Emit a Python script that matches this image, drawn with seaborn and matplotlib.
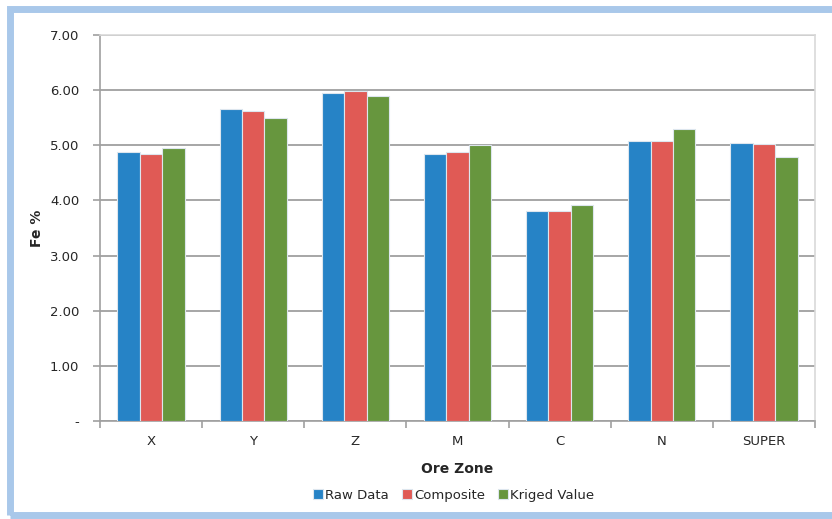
import matplotlib
matplotlib.use("Agg")
import matplotlib.pyplot as plt
import seaborn as sns
import pandas as pd
import numpy as np
from matplotlib.patches import Rectangle
from matplotlib.ticker import FixedLocator

# ==============================
# Data
# ==============================
zones = ["X", "Y", "Z", "M", "C", "N", "SUPER"]
raw_data = [4.87, 5.65, 5.94, 4.84, 3.80, 5.07, 5.04]
composite = [4.84, 5.63, 5.99, 4.88, 3.80, 5.08, 5.02]
kriged = [4.95, 5.50, 5.90, 5.00, 3.92, 5.30, 4.78]
series = ["Raw Data", "Composite", "Kriged Value"]
colors = ["#2683c6", "#e05a55", "#67963e"]
yticks = [0, 1, 2, 3, 4, 5, 6, 7]

df = pd.DataFrame({
    "zone": zones * 3,
    "value": raw_data + composite + kriged,
    "series": [s for s in series for _ in zones],
})

sns.set_style("white")
plt.rcParams["font.family"] = ["DejaVu Sans"]

fig = plt.figure(figsize=(8.32, 5.19), dpi=100)
ax = fig.add_axes([100/832, 1 - 421/519, 715/832, 386/519])

sns.barplot(data=df, x="zone", y="value", hue="series", palette=colors,
            saturation=1, width=0.66, gap=0, edgecolor="#dde6ee", linewidth=0.8,
            errorbar=None, legend=True, ax=ax, zorder=3)

ax.set_ylim(0, 7)
ax.set_xlim(-0.5, len(zones) - 0.5)
ax.set_yticks(yticks)
ax.set_yticklabels(["-" if v == 0 else f"{v:.2f}" for v in yticks], fontsize=9.5)
ax.yaxis.grid(True, color="#a6a6a6", linewidth=1.4, zorder=0)
ax.set_axisbelow(True)

# category ticks sit between groups, like a spreadsheet chart
ax.tick_params(axis="both", which="both", bottom=True, left=True)
ax.tick_params(axis="x", which="major", length=0, labelsize=9.5, pad=10)
ax.xaxis.set_minor_locator(FixedLocator(np.arange(-0.5, len(zones), 1.0)))
ax.tick_params(axis="x", which="minor", length=5, width=1.2, color="#a0a0a0", direction="out")
ax.tick_params(axis="y", which="major", length=5, width=1.2, color="#a0a0a0",
               direction="out", pad=10)

for side in ["left", "bottom"]:
    ax.spines[side].set_color("#a0a0a0")
    ax.spines[side].set_linewidth(1.2)
for side in ["top", "right"]:
    ax.spines[side].set_color("#d9d9d9")
    ax.spines[side].set_linewidth(1.2)

ax.set_xlabel("Ore Zone", fontsize=10, fontweight="bold", labelpad=10)
ax.set_ylabel("Fe %", fontsize=10, fontweight="bold", labelpad=4)

ax.legend(loc="center", bbox_to_anchor=(0.495, -0.192), ncol=3, frameon=False,
          fontsize=9.5, handlelength=0.7, handleheight=0.7, handletextpad=0.2,
          columnspacing=1.0)

# light blue frame around the whole chart
fig.patches.append(Rectangle((10/832, 4/519), 1.0, 1 - 13/519,
                             transform=fig.transFigure, fill=False,
                             edgecolor="#a9c8ea", linewidth=5, zorder=0))

fig.savefig("out.png", dpi=100)
plt.close(fig)
